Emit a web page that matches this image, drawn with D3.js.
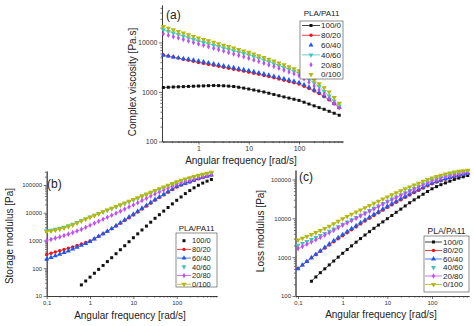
<!DOCTYPE html>
<html><head><meta charset="utf-8">
<script src="https://cdn.jsdelivr.net/npm/d3@7"></script>
<style>
body{margin:0;background:#fff}
text{font-family:"Liberation Sans",Arial,sans-serif}
</style>
</head><body>
<svg id="chart" width="474" height="326"></svg>
<script>
// blends and angular frequencies (rad/s)
var blends = ["100/0", "80/20", "60/40", "40/60", "20/80", "0/100"];
var freqA = [0.2,0.251,0.316,0.398,0.501,0.631,0.794,1,1.26,1.58,2,2.51,3.16,3.98,5.01,6.31,7.94,10,12.6,15.8,20,25.1,31.6,39.8,50.1,63.1,79.4,100,126,158,200,251,316,398,501,631];
var freqBC = [0.1,0.126,0.158].concat(freqA);

// (a) complex viscosity [Pa.s]
var eta100_0 = [1230,1245,1260,1270,1282,1294,1306,1318,1327,1340,1349,1343,1334,1312,1288,1245,1197,1148,1096,1047,1000,944,891,841,794,753,713,676,621,571,525,484,447,407,372,339];
var eta80_20 = [5620,5350,5080,4830,4590,4365,4150,3945,3776,3606,3451,3296,3148,3006,2877,2754,2630,2512,2388,2270,2153,2042,1932,1828,1726,1629,1535,1445,1303,1175,1047,933,804,692,575,479];
var eta60_40 = [5500,5284,5080,4887,4699,4571,4395,4227,4046,3864,3698,3532,3373,3221,3083,2951,2818,2692,2559,2432,2307,2188,2070,1959,1849,1746,1644,1549,1390,1247,1107,982,841,719,594,490];
var eta40_60 = [18030,16750,15560,14420,13400,12450,11530,10720,10050,9419,8831,8279,7762,7278,6823,6397,5998,5623,5200,4808,4436,4074,3741,3428,3141,2871,2624,2399,2080,1786,1524,1288,1023,832,661,525];
var eta20_80 = [14960,14000,13090,12250,11430,10690,10000,9333,8750,8185,7656,7161,6699,6266,5861,5483,5129,4786,4436,4111,3811,3524,3258,3006,2761,2535,2328,2138,1841,1567,1318,1096,912,741,596,479];
var eta0_100 = [20890,19360,17950,16630,15420,14290,13240,12300,11510,10770,10070,9419,8810,8241,7709,7211,6745,6310,5834,5383,4966,4571,4198,3855,3524,3221,2944,2692,2333,2009,1718,1456,1216,995,776,589];

// (b) storage modulus [Pa]
var gp100_0 = [null,null,null,null,null,null,null,null,25.1,34.7,47.9,66.1,91.2,126,174,240,334,466,649,904,1259,1738,2399,3311,4571,6310,8511,11480,15490,20890,28180,37150,48980,63100,79430,97720,117500,138000,158500];
var gp80_20 = [316,347,385,427,473,525,589,661,750,851,955,1161,1413,1738,2138,2630,3311,4169,5248,6607,8318,10620,13550,17300,22080,28180,35320,44060,54950,68390,85110,98860,113500,128800,146200,166000,186200,206500,229100];
var gp60_40 = [214,244,279,319,365,417,488,570,667,780,912,1132,1406,1746,2168,2692,3420,4345,5521,7015,8913,11380,14520,18540,23660,30200,37500,46560,57810,71780,89130,102300,116100,131800,149600,169800,188400,208000,229100];
var gp40_60 = [2239,2371,2541,2754,3020,3388,3846,4467,5188,6026,7079,8128,9333,10720,12300,14130,16220,18710,21580,24890,28710,33110,38280,44260,51170,59160,68390,79070,91410,105700,122200,137400,154200,171400,189700,208000,227500,247200,267900];
var gp20_80 = [1000,1096,1216,1349,1514,1698,1928,2188,2512,2985,3548,4188,4943,5834,6887,8128,9638,11430,13550,16070,19050,22910,27540,33110,39810,47860,56230,66070,77620,91200,107200,120200,133400,147900,164100,182000,199500,216300,234400];
var gp0_100 = [2089,2213,2371,2570,2818,3162,3631,4266,5012,5888,6918,8035,9333,10840,12590,14620,16900,19540,22590,26120,30200,34990,40550,46990,54450,63100,73110,84720,98160,113800,131800,147900,166000,184100,204200,223900,245500,266100,288400];

// (c) loss modulus [Pa]
var gpp100_0 = [null,null,null,240,309,398,501,631,794,1000,1259,1567,1950,2427,3006,3715,4529,5521,6699,8091,9772,11800,14260,17220,20800,25120,29790,35160,41500,48980,57540,65310,73280,81280,90160,100000,108400,116900,125900];
var gpp80_20 = [513,631,776,955,1161,1413,1706,2061,2477,2965,3548,4236,5047,6012,7161,8511,10000,11750,13800,16220,19050,22130,25700,29790,34440,39810,45710,52240,59700,68230,77620,85110,92900,101200,109400,117500,125300,133400,141300];
var gpp60_40 = [501,624,776,966,1183,1445,1786,2183,2655,3177,3802,4539,5408,6442,7674,9120,10720,12590,14790,17380,20420,23710,27540,31920,36900,42660,48750,55590,63100,71780,81280,88720,96390,104200,112500,120200,128200,136500,144500];
var gpp40_60 = [2042,2265,2529,2838,3199,3614,4093,4656,5309,6095,7079,8035,9183,10520,12050,13800,15850,18200,20890,23990,27540,31260,35480,40270,45710,51880,58880,66680,75340,84920,95500,104200,112700,121300,129700,138000,145500,152800,159600];
var gpp20_80 = [1660,1884,2138,2443,2793,3199,3673,4236,4898,5689,6607,7586,8710,10000,11480,13180,15140,17380,19950,22910,26300,29850,33880,38460,43650,49550,56230,63680,71940,81100,91200,100000,108400,116900,125300,133400,140600,146900,153100];
var gpp0_100 = [2754,3055,3404,3811,4285,4842,5495,6266,7178,8356,9772,11140,12710,14450,16440,18710,21280,24210,27540,31260,35480,40090,45190,50820,57150,64120,71780,80170,89130,98860,109600,119400,128800,138000,146900,154900,161400,166700,171800];

// tick labels
var xTicksA = [1, 10, 100], xLabelsA = ["1", "10", "100"];
var yTicksA = [100, 1000, 10000], yLabelsA = ["100", "1000", "10000"];
var xTicksBC = [0.1, 1, 10, 100], xLabelsBC = ["0,1", "1", "10", "100"];
var yTicksB = [10, 100, 1000, 10000, 100000], yLabelsB = ["10", "100", "1000", "10000", "100000"];
var yTicksC = [100, 1000, 10000, 100000], yLabelsC = ["100", "1000", "10000", "100000"];

// styles
var colors = ["#111111", "#e8141e", "#2357ea", "#46c4bc", "#c04ef6", "#b4b80c"];
var symbols = [d3.symbolSquare, d3.symbolCircle, d3.symbolTriangle, d3.symbolTriangle, d3.symbolDiamond, d3.symbolTriangle];
var rotations = [0, 0, 0, 180, 0, 180];
var sizes = [9, 9, 11, 11, 9, 12];

var svg = d3.select("#chart");
svg.append("rect").attr("width", 474).attr("height", 326).attr("fill", "#fff");

function minorTicks(dom) {
  var out = [];
  var lo = Math.floor(Math.log10(dom[0])), hi = Math.ceil(Math.log10(dom[1]));
  for (var d = lo; d <= hi; d++) {
    for (var k = 2; k <= 9; k++) {
      var v = k * Math.pow(10, d);
      if (v >= dom[0] && v <= dom[1]) out.push(v);
    }
  }
  return out;
}

function styleAxis(sel, fs) {
  sel.select(".domain").attr("stroke", "#333").attr("stroke-width", 0.8);
  sel.selectAll(".tick line").attr("stroke", "#333").attr("stroke-width", 0.7);
  sel.selectAll(".tick text").attr("fill", "#333").style("font-size", fs + "px")
    .style("font-family", "'Liberation Sans', Arial, sans-serif");
}

function panel(o) {
  var x = d3.scaleLog().domain(o.xDom).range([o.x0, o.x1]);
  var y = d3.scaleLog().domain(o.yDom).range([o.y1, o.y0]);
  var g = svg.append("g");

  // minor ticks first
  g.append("g").attr("transform", "translate(0," + o.y1 + ")")
    .call(d3.axisBottom(x).tickValues(minorTicks(o.xDom)).tickFormat("").tickSize(1.6).tickSizeOuter(0))
    .call(styleAxis, 6);
  g.append("g").attr("transform", "translate(" + o.x0 + ",0)")
    .call(d3.axisLeft(y).tickValues(minorTicks(o.yDom)).tickFormat("").tickSize(1.6).tickSizeOuter(0))
    .call(styleAxis, 6);

  var xa = g.append("g").attr("transform", "translate(0," + o.y1 + ")")
    .call(d3.axisBottom(x).tickValues(o.xTicks).tickFormat(function(d, i) { return o.xLabels[i]; })
      .tickSize(3).tickSizeOuter(0).tickPadding(1.5))
    .call(styleAxis, o.tfs);
  var ya = g.append("g").attr("transform", "translate(" + o.x0 + ",0)")
    .call(d3.axisLeft(y).tickValues(o.yTicks).tickFormat(function(d, i) { return o.yLabels[i]; })
      .tickSize(3).tickSizeOuter(0).tickPadding(1.5))
    .call(styleAxis, o.tfs);

  // series
  o.series.forEach(function(vals, i) {
    var pts = o.freq.map(function(f, j) { return [f, vals[j]]; }).filter(function(d) { return d[1] != null; });
    if (o.lines[i]) {
      g.append("path").datum(pts)
        .attr("fill", "none").attr("stroke", colors[i]).attr("stroke-width", 0.7)
        .attr("d", d3.line().x(function(d) { return x(d[0]); }).y(function(d) { return y(d[1]); }));
    }
    g.append("g").selectAll("path").data(pts).join("path")
      .attr("d", d3.symbol().type(symbols[i]).size(sizes[i]))
      .attr("transform", function(d) { return "translate(" + x(d[0]) + "," + y(d[1]) + ") rotate(" + rotations[i] + ")"; })
      .attr("fill", colors[i]);
  });

  // titles
  g.append("text").attr("x", o.lab[0]).attr("y", o.lab[1]).text(o.label)
    .style("font-size", "12px").attr("fill", "#222");
  g.append("text").attr("x", o.xt[0]).attr("y", o.xt[1]).attr("text-anchor", "middle")
    .text("Angular frequency [rad/s]").style("font-size", "10px").attr("fill", "#222");
  g.append("text").attr("transform", "translate(" + o.yt[0] + "," + o.yt[1] + ") rotate(-90)")
    .attr("text-anchor", "middle").text(o.yTitle).style("font-size", "10px").attr("fill", "#222");

  // legend
  var L = o.leg;
  g.append("text").attr("x", L.x + L.w / 2).attr("y", L.titleY).attr("text-anchor", "middle")
    .text("PLA/PA11").style("font-size", L.tfs + "px").attr("fill", "#222");
  g.append("rect").attr("x", L.x).attr("y", L.y).attr("width", L.w).attr("height", L.h)
    .attr("fill", "#fff").attr("stroke", "#444").attr("stroke-width", 0.6);
  blends.forEach(function(b, i) {
    var ry = L.row0 + i * L.step;
    if (o.legLines[i]) {
      g.append("line").attr("x1", L.l0).attr("x2", L.l1).attr("y1", ry).attr("y2", ry)
        .attr("stroke", colors[i]).attr("stroke-width", 0.8);
    }
    g.append("path").attr("d", d3.symbol().type(symbols[i]).size(sizes[i]))
      .attr("transform", "translate(" + (L.l0 + L.l1) / 2 + "," + ry + ") rotate(" + rotations[i] + ")")
      .attr("fill", colors[i]);
    g.append("text").attr("x", L.tx).attr("y", ry + L.fs * 0.36).text(b)
      .style("font-size", L.fs + "px").attr("fill", "#222");
  });
}

panel({
  freq: freqA, series: [eta100_0, eta80_20, eta60_40, eta40_60, eta20_80, eta0_100],
  lines: [1, 1, 0, 1, 0, 0], legLines: [1, 1, 0, 1, 0, 0],
  x0: 162, x1: 343, y0: 5, y1: 141.5, xDom: [0.188, 750], yDom: [100, 57000],
  xTicks: xTicksA, xLabels: xLabelsA, yTicks: yTicksA, yLabels: yLabelsA, tfs: 7,
  label: "(a)", lab: [166, 19], yTitle: "Complex viscosity [Pa.s]",
  xt: [241, 164], yt: [136, 82],
  leg: {x: 300, y: 21, w: 43, h: 58, titleY: 16, tfs: 8, row0: 25.5, step: 9.8, l0: 302, l1: 320, tx: 321, fs: 8}
});

panel({
  freq: freqBC, series: [gp100_0, gp80_20, gp60_40, gp40_60, gp20_80, gp0_100],
  lines: [0, 1, 1, 0, 1, 1], legLines: [0, 1, 1, 0, 1, 1],
  x0: 46.7, x1: 217, y0: 171, y1: 296, xDom: [0.1, 850], yDom: [10, 320000],
  xTicks: xTicksBC, xLabels: xLabelsBC, yTicks: yTicksB, yLabels: yLabelsB, tfs: 6,
  label: "(b)", lab: [47, 188], yTitle: "Storage modulus [Pa]",
  xt: [130, 319], yt: [13, 236],
  leg: {x: 176, y: 233, w: 41, h: 54, titleY: 231, tfs: 8, row0: 240.7, step: 8.7, l0: 177, l1: 191, tx: 192, fs: 7.5}
});

panel({
  freq: freqBC, series: [gpp100_0, gpp80_20, gpp60_40, gpp40_60, gpp20_80, gpp0_100],
  lines: [1, 1, 1, 0, 1, 1], legLines: [1, 1, 1, 0, 1, 1],
  x0: 295.5, x1: 469, y0: 170, y1: 296, xDom: [0.0879, 673], yDom: [100, 175000],
  xTicks: xTicksBC, xLabels: xLabelsBC, yTicks: yTicksC, yLabels: yLabelsC, tfs: 6,
  label: "(c)", lab: [299, 181], yTitle: "Loss modulus [Pa]",
  xt: [381, 318], yt: [264, 231],
  leg: {x: 424, y: 236, w: 45, h: 56, titleY: 234, tfs: 8.5, row0: 242, step: 8.5, l0: 425, l1: 442, tx: 443, fs: 8}
});
</script>
</body></html>
